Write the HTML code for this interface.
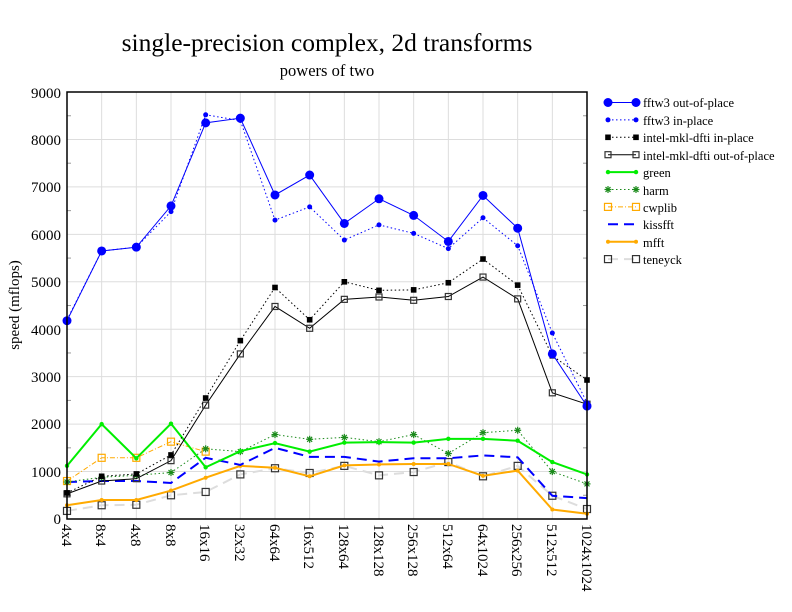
<!DOCTYPE html>
<html><head><meta charset="utf-8"><style>
body{margin:0;background:#fff}
svg{display:block;font-family:"Liberation Serif",serif}
</style></head><body>
<svg id="s" width="792" height="612" xmlns="http://www.w3.org/2000/svg">
<rect width="792" height="612" fill="#fff"/>
<text x="327" y="51" font-size="25.5" text-anchor="middle">single-precision complex, 2d transforms</text>
<text x="327" y="76" font-size="16.5" text-anchor="middle">powers of two</text>
<text transform="translate(19,305) rotate(-90)" font-size="15" text-anchor="middle">speed (mflops)</text>
<g id="grid" stroke="#ddd" stroke-width="1"></g>
<g font-size="15" text-anchor="end">
<text x="61" y="524">0</text><text x="61" y="477">1000</text><text x="61" y="429">2000</text>
<text x="61" y="382">3000</text><text x="61" y="335">4000</text><text x="61" y="287">5000</text>
<text x="61" y="240">6000</text><text x="61" y="192">7000</text><text x="61" y="145">8000</text>
<text x="61" y="98">9000</text>
</g>
<g font-size="15" id="xl">
<text transform="translate(62,524) rotate(90)">4x4</text>
<text transform="translate(96,524) rotate(90)">8x4</text>
<text transform="translate(131,524) rotate(90)">4x8</text>
<text transform="translate(166,524) rotate(90)">8x8</text>
<text transform="translate(200,524) rotate(90)">16x16</text>
<text transform="translate(235,524) rotate(90)">32x32</text>
<text transform="translate(270,524) rotate(90)">64x64</text>
<text transform="translate(304,524) rotate(90)">16x512</text>
<text transform="translate(339,524) rotate(90)">128x64</text>
<text transform="translate(374,524) rotate(90)">128x128</text>
<text transform="translate(408,524) rotate(90)">256x128</text>
<text transform="translate(443,524) rotate(90)">512x64</text>
<text transform="translate(478,524) rotate(90)">64x1024</text>
<text transform="translate(512,524) rotate(90)">256x256</text>
<text transform="translate(547,524) rotate(90)">512x512</text>
<text transform="translate(582,524) rotate(90)">1024x1024</text>
</g>
<g id="series"></g>
<rect x="67" y="92" width="520" height="427" fill="none" stroke="#000" stroke-width="1.5"/>
<g id="leg"></g>
<g font-size="12.5">
<text x="643" y="107">fftw3 out-of-place</text>
<text x="643" y="125">fftw3 in-place</text>
<text x="643" y="142">intel-mkl-dfti in-place</text>
<text x="643" y="160">intel-mkl-dfti out-of-place</text>
<text x="643" y="177">green</text>
<text x="643" y="195">harm</text>
<text x="643" y="212">cwplib</text>
<text x="643" y="229">kissfft</text>
<text x="643" y="247">mfft</text>
<text x="643" y="264">teneyck</text>
</g>
</svg>
<script>
const NS="http://www.w3.org/2000/svg";
const X=i=>67+i*520/15, Y=v=>519-v*0.04744;
function el(p,t,a){const e=document.createElementNS(NS,t);for(const k in a)e.setAttribute(k,a[k]);p.appendChild(e);return e;}
const g=document.getElementById('grid');
for(let i=1;i<15;i++)el(g,'line',{x1:X(i),x2:X(i),y1:92,y2:519});
for(let v=1000;v<9000;v+=1000)el(g,'line',{x1:67,x2:587,y1:Y(v),y2:Y(v)});
for(let v=500;v<9000;v+=1000){el(g,'line',{x1:67,x2:71,y1:Y(v),y2:Y(v),stroke:'#999'});el(g,'line',{x1:583,x2:587,y1:Y(v),y2:Y(v),stroke:'#999'});}
const S=[
{d:[4180,5650,5730,6600,8350,8450,6830,7250,6230,6750,6400,5850,6820,6130,3480,2380],c:'#00f',w:1,m:'dot',r:4.5},
{d:[4200,5650,5730,6480,8520,8400,6300,6580,5880,6200,6020,5700,6350,5760,3920,2450],c:'#00f',w:1,da:'1.5 2.5',m:'dot',r:2.5},
{d:[550,900,950,1350,2550,3760,4880,4200,5000,4820,4830,4980,5480,4930,3440,2930],c:'#000',w:1,da:'1.5 2.5',m:'sq',r:2.2,f:'#000'},
{d:[530,800,850,1230,2400,3480,4480,4020,4630,4680,4610,4690,5100,4640,2660,2420],c:'#000',w:1,m:'sq',r:3,f:'none',mc:'#333'},
{d:[1120,2000,1280,2010,1090,1430,1600,1420,1610,1620,1610,1690,1690,1650,1200,940],c:'#0e0',w:2,m:'dot',r:2.2},
{d:[780,880,920,980,1480,1420,1780,1680,1720,1630,1780,1380,1820,1870,1000,740],c:'#1a8a1a',w:1,da:'1.5 2.5',m:'star',r:3.5},
{d:[800,1290,1290,1630,1420],c:'#fa0',w:1,da:'5 2 1 2',m:'sq',r:3.5,f:'none'},
{d:[780,800,800,760,1290,1140,1500,1310,1310,1210,1280,1280,1340,1300,490,440],c:'#00f',w:2,da:'10 6',m:null},
{d:[290,400,400,600,870,1120,1080,900,1130,1150,1160,1160,910,1020,200,110],c:'#fa0',w:2,m:'dot',r:2},
{d:[170,290,300,500,570,940,1070,970,1120,920,990,1200,900,1120,490,210],c:'#ddd',w:2,da:'10 6',m:'sq',r:3.5,f:'none',mc:'#333'}
];
const sg=document.getElementById('series'),lg=document.getElementById('leg');
function mark(p,s,x,y){const mc=s.mc||s.c;
 if(s.m=='dot')el(p,'circle',{cx:x,cy:y,r:s.r,fill:mc});
 else if(s.m=='sq')el(p,'rect',{x:x-s.r,y:y-s.r,width:2*s.r,height:2*s.r,fill:s.f||'none',stroke:mc,'stroke-width':1.2});
 else if(s.m=='star'){for(const a of [0,45,90,135]){const c=Math.cos(a*Math.PI/180)*s.r,n=Math.sin(a*Math.PI/180)*s.r;el(p,'line',{x1:x-c,y1:y-n,x2:x+c,y2:y+n,stroke:mc,'stroke-width':1.2});}}}
[...S].reverse().forEach(s=>{
 const pts=s.d.map((v,i)=>X(i)+','+Y(v)).join(' ');
 const a={points:pts,fill:'none',stroke:s.c,'stroke-width':s.w};if(s.da)a['stroke-dasharray']=s.da;
 el(sg,'polyline',a);
 s.d.forEach((v,i)=>{if(s.m)mark(sg,s,X(i),Y(v));});
});
S.forEach((s,k)=>{const y=102.5+k*17.4;
 const a={x1:608,x2:636,y1:y,y2:y,stroke:s.c,'stroke-width':s.w};if(s.da)a['stroke-dasharray']=s.da;
 el(lg,'line',a);if(s.m){mark(lg,s,608,y);mark(lg,s,636,y);}});
</script>
</body></html>
